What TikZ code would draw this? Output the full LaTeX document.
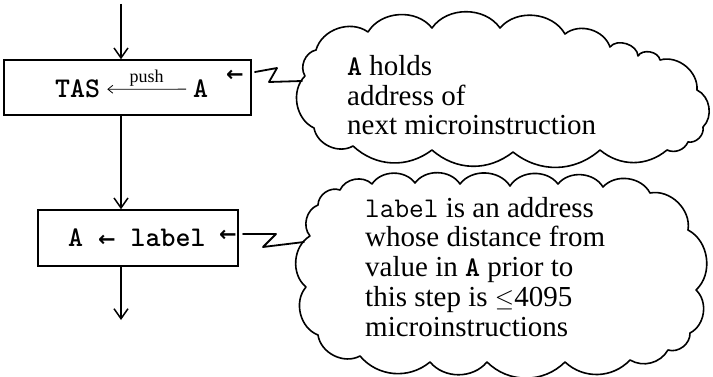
\documentclass[tikz,border=0pt]{standalone}
\usepackage{fontspec}
\setmainfont{Liberation Serif}
\newfontfamily\arrowfont{DejaVu Sans}
\usetikzlibrary{arrows.meta}

\newcommand{\smallarrow}{{\arrowfont\bfseries\fontsize{21}{22}\selectfont ←}}
\newcommand{\ttbig}{\ttfamily\fontsize{28.5}{30}\selectfont}

\tikzset{
  step box/.style={draw, line width=1.5pt, minimum height=55pt, inner sep=0pt},
  code/.style={font=\ttbig\bfseries, inner sep=0pt},
  note/.style={font=\fontsize{29}{29.7}\selectfont, align=left, anchor=base west, inner sep=0pt},
  puffs/.style={line width=1.6pt, line join=round, every to/.style={bend left=55}},
  flow/.style={line width=1.5pt, -{Straight Barb[length=10pt, width=14pt, line width=1.5pt]}},
  wire/.style={line width=1.8pt, line join=round, line cap=round}
}

\begin{document}
\begin{tikzpicture}[x=1pt, y=-1pt]
    \useasboundingbox (0,0) rectangle (713,377);
    % first step: push A onto TAS
    \node[step box, minimum width=247pt] (tasbox) at (127.5,87.5) {};
    \node[code, anchor=base west] (tas) at (55,98) {TAS};
    \node[code, anchor=base west] (rega) at (193,98) {A};
    \draw[line width=0.8pt, -{Straight Barb[length=5pt, width=8pt]}, shorten >=7pt, shorten <=7pt] (rega) -- node[above=2pt, font=\fontsize{18}{20}\selectfont, inner sep=0pt] {push} (tas);
    \node[inner sep=0pt] (tasin) at (235,76) {\smallarrow};
    % second step: A gets label
    \node[step box, minimum width=200pt, minimum height=56pt] (labelbox) at (138,238) {};
    \node[code, anchor=base west] (load) at (68,247) {A \smallarrow{} label};
    \node[inner sep=0pt] (labelin) at (228,236) {\smallarrow};
    % flow line
    \coordinate (start) at (121,4);
    \coordinate (finish) at (121,320);
    \draw[flow] (start) -- (start |- tasbox.north);
    \draw[flow] (tasbox.south -| start) -- (labelbox.north -| start);
    \draw[flow] (labelbox.south -| start) -- (finish);
    % upper cloud
    \draw[puffs] (316,50) to (368,32) to (432,28) to (500,28) to (565,34) to (610,47)
        to[bend left=70] (638,56) to[bend left=70] (660,60) to (697,90) to (703,127)
        to (688,142) to[bend left=45] (667,150) to[bend left=40] (600,150) to[bend left=40] (513,152)
        to[bend left=40] (432,150) to[bend left=40] (353,146) to (314,128) to (305,76) to (316,50) -- cycle;
    \coordinate (holdsedge) at (302,81);
    \node[note] (holdstext) at (347,135) {{\ttbig\bfseries A} holds\\address of\\next microinstruction};
    % lower cloud
    \draw[puffs] (318,205) to (340,190) to (372,184) to (415,183) to (460,184) to (510,186)
        to (558,184) to (603,187) to (650,193) to (688,230) to (696,290) to (690,333)
        to (668,350) to[bend left=45] (630,360) to[bend left=45] (565,362) to[bend left=45] (487,362)
        to[bend left=50] (430,362) to[bend left=45] (360,356) to (318,335) to (306,287) to (310,236) to (318,205) -- cycle;
    \coordinate (labeledge) at (304,242);
    \node[note] (labeltext) at (365,336) {{\ttbig label} is an address\\whose distance from\\value in {\ttbig\bfseries A} prior to\\this step is \(\leq\)4095\\microinstructions};
    % squiggles to the clouds
    \coordinate (sqa) at (255,72);
    \draw[wire] (sqa) -- ++(22,-4) -- ++(-8,14) -- (holdsedge);
    \coordinate (sqb) at (243,234);
    \draw[wire] (sqb) -- ++(33,0) -- ++(-13,13) -- (labeledge);
\end{tikzpicture}
\end{document}
